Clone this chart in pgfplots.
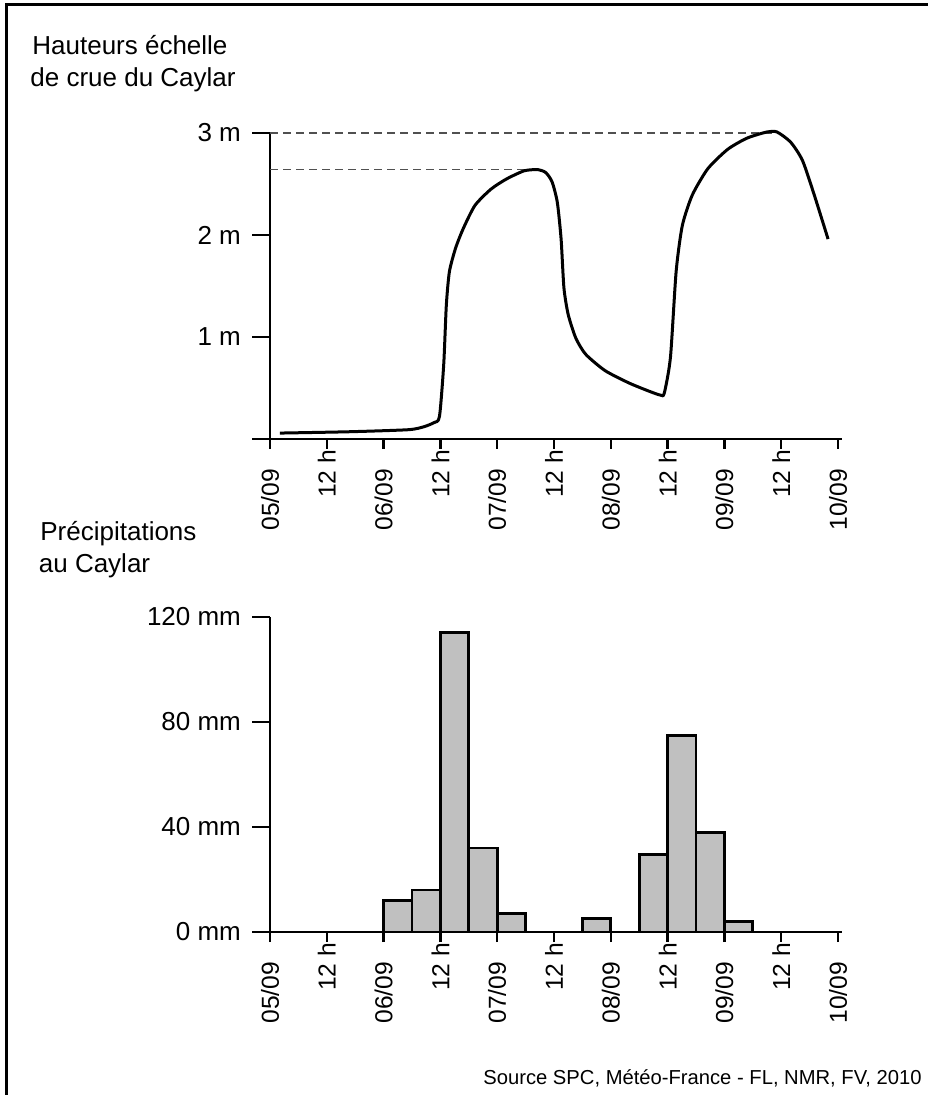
\documentclass[border=0pt]{standalone}
\usepackage{pgfplots}
\pgfplotsset{compat=1.18}
\usepackage{fontspec}
\setmainfont{Liberation Sans}
\definecolor{barfill}{RGB}{192,192,192}
\definecolor{dashc}{RGB}{80,80,80}

\begin{document}
\begin{tikzpicture}
\useasboundingbox (-135pt,-328pt) rectangle (328.5pt,219.5pt);
\fill[white] (-135pt,-328pt) rectangle (328.5pt,219.5pt);
\draw[line width=1.5pt] (-131.5pt,-328pt) -- (-131.5pt,217pt) -- (330pt,217pt);

\pgfplotsset{
  mystyle/.style={
    scale only axis, width=284pt, xmin=0, xmax=120,
    axis x line=bottom, axis y line=left,
    axis line style={line width=1.2pt, -},
    tick align=outside, major tick length=5pt,
    xtick style={line width=1.2pt, black},
    ytick style={draw=none},
    xtick={0,12,...,120},
    xticklabels={05/09\kern6.5pt, 12 h\kern-3pt, 06/09\kern6.5pt, 12 h\kern-3pt, 07/09\kern6.5pt, 12 h\kern-3pt, 08/09\kern6.5pt, 12 h\kern-3pt, 09/09\kern6.5pt, 12 h\kern-3pt, 10/09\kern6.5pt},
    xticklabel style={rotate=90, anchor=east, font=\fontsize{12.3}{14}\selectfont},
    yticklabel style={anchor=east, xshift=-6pt, font=\fontsize{13}{15}\selectfont},
    clip=false,
  }
}

\begin{axis}[mystyle, at={(0pt,0pt)}, anchor=south west, height=153pt,
  ymin=0, ymax=3, ytick={1,2,3}, yticklabels={1 m,2 m,3 m}]
\addplot[dashc, line width=0.6pt, dash pattern=on 4pt off 2.5pt] coordinates {(0,3) (106.5,3)};
\addplot[dashc, line width=0.6pt, dash pattern=on 4pt off 2.5pt] coordinates {(0,2.645) (54,2.645)};
\addplot[black, line width=1.5pt, smooth, tension=0.4] coordinates {
(2.1,0.058) (16.7,0.071) (29.2,0.091) (32.5,0.12) (34.6,0.16) (35.8,0.22) (36.7,0.73) (37.25,1.31) (37.9,1.64) (39.2,1.87) (40.8,2.06) (43.3,2.29) (46.7,2.45) (50,2.55) (53.75,2.63) (56.7,2.64) (58.3,2.61) (59.6,2.52) (60.7,2.32) (61.5,1.96) (62.1,1.48) (63,1.22) (64.6,0.99) (66.7,0.83) (70.8,0.67) (75.8,0.55) (80,0.47) (82.5,0.43) (83.3,0.45) (84.6,0.80) (85.8,1.64) (87.1,2.09) (89.2,2.39) (92.5,2.65) (96.7,2.84) (100.8,2.95) (105,3.01) (107.1,3.01) (110,2.91) (112.5,2.73) (115,2.39) (117.9,1.96)
};
\draw[line width=1.2pt] (axis cs:0,1) -- ++(-9pt,0);
\draw[line width=1.2pt] (axis cs:0,2) -- ++(-9pt,0);
\draw[line width=1.2pt] (axis cs:0,3) -- ++(-9pt,0);
\draw[line width=1.2pt] (axis cs:0,0) -- ++(-9pt,0);
\draw[line width=1.2pt] (axis cs:120,0) -- ++(2pt,0);
\end{axis}

\begin{axis}[mystyle, at={(0pt,-246.5pt)}, anchor=south west, height=157.5pt,
  ymin=0, ymax=120, ytick={0,40,80,120}, yticklabels={0 mm,40 mm,80 mm,120 mm}]
\addplot[ybar interval, fill=barfill, draw=black, line width=1.4pt] coordinates {(24,12) (30,16) (36,114) (42,32) (48,7) (54,0)};
\addplot[ybar interval, fill=barfill, draw=black, line width=1.4pt] coordinates {(66,5) (72,0)};
\addplot[ybar interval, fill=barfill, draw=black, line width=1.4pt] coordinates {(78,29.5) (84,75) (90,38) (96,4) (102,0)};
\draw[line width=1.2pt] (axis cs:0,40) -- ++(-9pt,0);
\draw[line width=1.2pt] (axis cs:0,80) -- ++(-9pt,0);
\draw[line width=1.2pt] (axis cs:0,120) -- ++(-9pt,0);
\draw[line width=1.2pt] (axis cs:0,0) -- ++(-9pt,0);
\draw[line width=1.2pt] (axis cs:120,0) -- ++(2pt,0);
\end{axis}

\node[anchor=base west, inner sep=0pt, font=\fontsize{13}{15}\selectfont] at (-119pt,192pt) {Hauteurs échelle};
\node[anchor=base west, inner sep=0pt, font=\fontsize{13}{15}\selectfont] at (-120pt,176pt) {de crue du Caylar};
\node[anchor=base west, inner sep=0pt, font=\fontsize{13}{15}\selectfont] at (-115pt,-51pt) {Précipitations};
\node[anchor=base west, inner sep=0pt, font=\fontsize{13}{15}\selectfont] at (-115.75pt,-67pt) {au Caylar};
\node[anchor=base east, inner sep=0pt, font=\fontsize{10.1}{12}\selectfont] at (326pt,-322.5pt) {Source SPC, Météo-France - FL, NMR, FV, 2010};
\end{tikzpicture}
\end{document}
